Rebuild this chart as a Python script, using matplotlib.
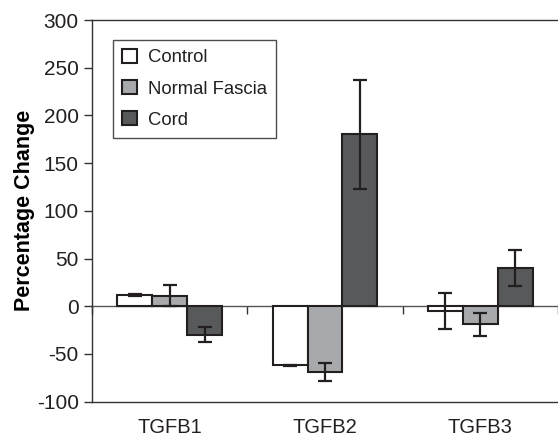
import matplotlib
matplotlib.use("Agg")
import matplotlib.pyplot as plt
import numpy as np

categories = ["TGFB1", "TGFB2", "TGFB3"]
series = ["Control", "Normal Fascia", "Cord"]
control = [12, -62, -5]
control_err = [1, 0.5, 19]
fascia = [11, -69, -19]
fascia_err = [11, 9, 12]
cord = [-30, 180, 40]
cord_err = [8, 57, 19]
yticks = [-100, -50, 0, 50, 100, 150, 200, 250, 300]

values = [control, fascia, cord]
errors = [control_err, fascia_err, cord_err]
colors = ["#ffffff", "#a7a9ac", "#58595b"]
edge = "#231f20"

plt.rcParams["font.family"] = ["Liberation Sans", "DejaVu Sans"]
plt.rcParams["font.size"] = 15
plt.rcParams["axes.unicode_minus"] = False
plt.rcParams["text.color"] = "#231f20"
plt.rcParams["xtick.color"] = "#231f20"
plt.rcParams["ytick.color"] = "#231f20"

fig = plt.figure(figsize=(5.58, 4.41), dpi=100)
ax = fig.add_axes([92/558, 1 - 401.6/441, 1 - 92/558, (401.6 - 20)/441])

x = np.arange(len(categories))
w = 0.225
for i, (vals, errs, c, name) in enumerate(zip(values, errors, colors, series)):
    ax.bar(x + (i - 1) * w, vals, width=w, color=c, edgecolor=edge,
           linewidth=1.5, label=name, zorder=3)
    ax.errorbar(x + (i - 1) * w, vals, yerr=errs, fmt="none", ecolor=edge,
                elinewidth=1.6, capsize=4.7, capthick=1.6, zorder=4)

ax.set_xlim(-0.5, len(categories) - 0.5)
ax.set_ylim(-100, 300)
ax.set_yticks(yticks)
ax.set_xticks(x)
ax.set_xticklabels(categories, fontsize=14.5)
ax.tick_params(axis="x", length=0, pad=12)
ax.tick_params(axis="y", direction="out", length=5.5, width=1, color="#333333", pad=4,
               labelsize=15)

for s in ["left", "top", "bottom"]:
    ax.spines[s].set_color("#333333")
    ax.spines[s].set_linewidth(1)
ax.spines["right"].set_visible(False)

# zero line with category-boundary ticks
ylo, yhi = ax.get_ylim()
zero_frac = (0 - ylo) / (yhi - ylo)
sec = ax.secondary_xaxis(zero_frac)
sec.set_xticks(np.arange(len(categories) + 1) - 0.5)
sec.set_xticklabels([])
sec.tick_params(direction="out", length=6, width=1, color="#333333")
sec.spines["bottom"].set_color("#555555")
sec.spines["bottom"].set_linewidth(1)

ax.set_ylabel("Percentage Change", fontweight="bold", fontsize=15.5, labelpad=1)

leg = ax.legend(loc="upper left", bbox_to_anchor=((113 - 92)/466, 1 - (40 - 20)/381.6),
                borderaxespad=0, frameon=True, fancybox=False, shadow=False,
                handlelength=0.8, handleheight=0.8, handletextpad=0.6,
                labelspacing=0.74, borderpad=0.48, fontsize=13.3)
leg.get_frame().set_edgecolor("#231f20")
leg.get_frame().set_linewidth(1)

fig.savefig("out.png", dpi=100)
